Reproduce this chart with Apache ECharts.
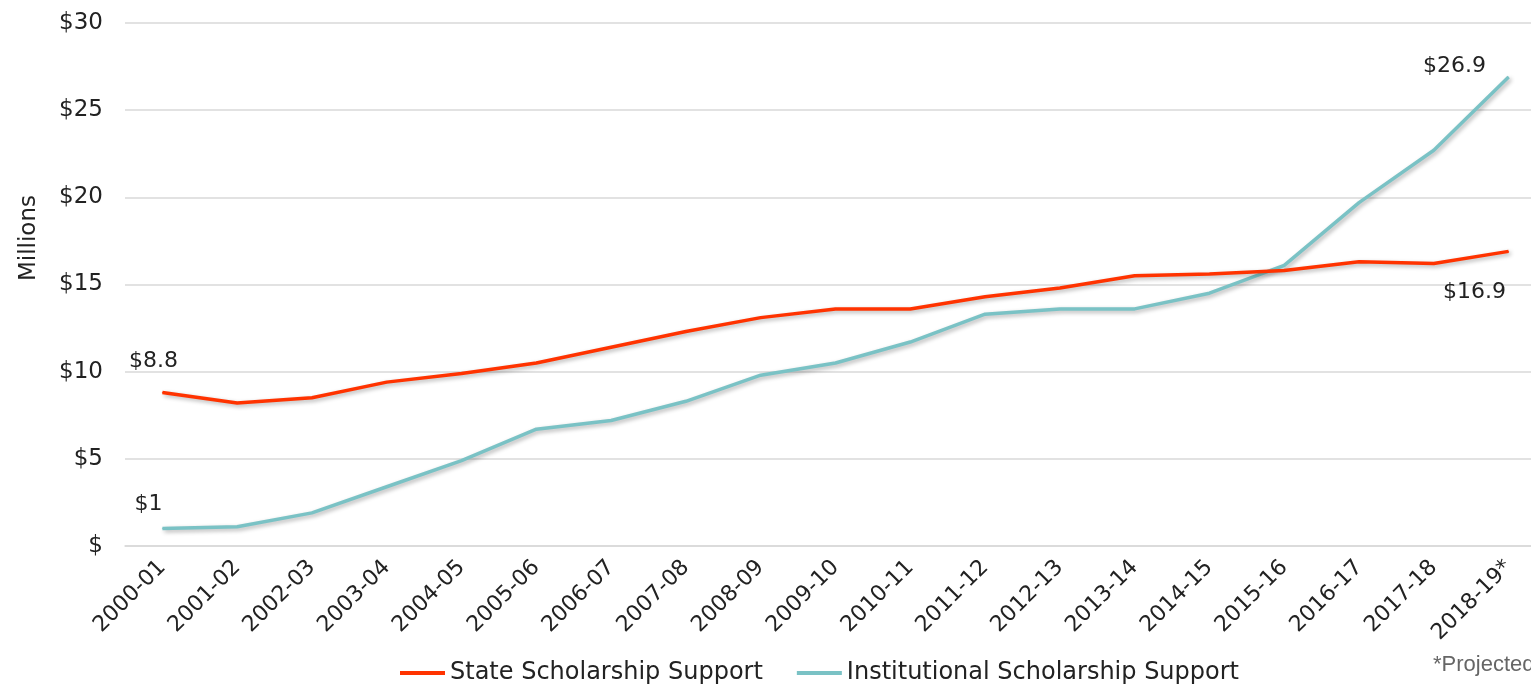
<!DOCTYPE html>
<html>
<head>
<meta charset="utf-8">
<script src="https://cdn.jsdelivr.net/npm/echarts@6/dist/echarts.min.js"></script>
<style>
html,body{margin:0;padding:0;background:#fff;}
#c{width:1531px;height:685px;}
</style>
</head>
<body>
<div id="c"></div>
<script>
const categories = ['2000-01','2001-02','2002-03','2003-04','2004-05','2005-06','2006-07','2007-08','2008-09','2009-10','2010-11','2011-12','2012-13','2013-14','2014-15','2015-16','2016-17','2017-18','2018-19*'];
const stateSupport = [8.8, 8.2, 8.5, 9.4, 9.9, 10.5, 11.4, 12.3, 13.1, 13.6, 13.6, 14.3, 14.8, 15.5, 15.6, 15.8, 16.3, 16.2, 16.9];
const institutionalSupport = [1.0, 1.1, 1.9, 3.4, 4.9, 6.7, 7.2, 8.3, 9.8, 10.5, 11.7, 13.3, 13.6, 13.6, 14.5, 16.1, 19.7, 22.7, 26.9];
const yTicks = [0, 5, 10, 15, 20, 25, 30];
const seriesNames = ['State Scholarship Support', 'Institutional Scholarship Support'];

const FONT = '"DejaVu Sans", sans-serif';
const TXT = '#222';

function withLabels(arr, labels) {
  return arr.map((v, i) => {
    const l = labels[i];
    if (!l) return v;
    return { value: v, label: { show: true, position: 'inside', offset: l, formatter: '$' + v.toString(), color: TXT, fontSize: 22, fontFamily: FONT } };
  });
}
const stateLabels = {0: [-9, -31], 18: [-34, 41]};
const instLabels = {0: [-14, -24], 18: [-54, -11]};

const chart = echarts.init(document.getElementById('c'));
chart.setOption({
  animation: false,
  backgroundColor: '#fff',
  grid: { left: 125, width: 1421, top: 23, bottom: 139, containLabel: false, outerBoundsMode: 'none' },
  legend: {
    left: 395, top: 656,
    icon: 'rect', itemWidth: 45, itemHeight: 4, itemGap: 34, itemTextGap: 4,
    textStyle: { color: TXT, fontSize: 24, fontFamily: FONT },
    data: seriesNames
  },
  xAxis: {
    type: 'category',
    data: categories,
    boundaryGap: true,
    axisLine: { show: true, lineStyle: { color: '#d9d9d9', width: 1.5 } },
    axisTick: { show: false },
    axisLabel: { rotate: 45, color: TXT, fontSize: 22, fontFamily: FONT, margin: 18, interval: 0 }
  },
  yAxis: {
    type: 'value', min: 0, max: 30, interval: 5,
    axisLine: { show: false }, axisTick: { show: false },
    splitLine: { lineStyle: { color: '#d9d9d9', width: 1.5 } },
    axisLabel: { color: TXT, fontSize: 23, fontFamily: FONT, margin: 22,
      formatter: v => yTicks.includes(v) ? (v === 0 ? '$' : '$' + v) : '' }
  },
  graphic: [
    { type: 'text', left: 18, top: 195, rotation: Math.PI / 2,
      style: { text: 'Millions', fill: TXT, font: '23px ' + FONT } },
    { type: 'text', left: 1433, top: 654,
      style: { text: '*Projected', fill: '#666', font: '22px "Liberation Sans", Arial, sans-serif' } }
  ],
  series: [
    { name: seriesNames[0], type: 'line', data: withLabels(stateSupport, stateLabels),
      color: '#FF3300', symbol: 'circle', symbolSize: 1, showSymbol: true,
      lineStyle: { width: 3.5, color: '#FF3300', shadowColor: 'rgba(0,0,0,0.3)', shadowBlur: 4, shadowOffsetX: 2, shadowOffsetY: 2 },
      itemStyle: { color: '#FF3300' }, z: 3 },
    { name: seriesNames[1], type: 'line', data: withLabels(institutionalSupport, instLabels),
      color: '#7AC2C5', symbol: 'circle', symbolSize: 1, showSymbol: true,
      lineStyle: { width: 3.5, color: '#7AC2C5', shadowColor: 'rgba(0,0,0,0.3)', shadowBlur: 4, shadowOffsetX: 2, shadowOffsetY: 2 },
      itemStyle: { color: '#7AC2C5' }, z: 2 }
  ]
});
</script>
</body>
</html>
